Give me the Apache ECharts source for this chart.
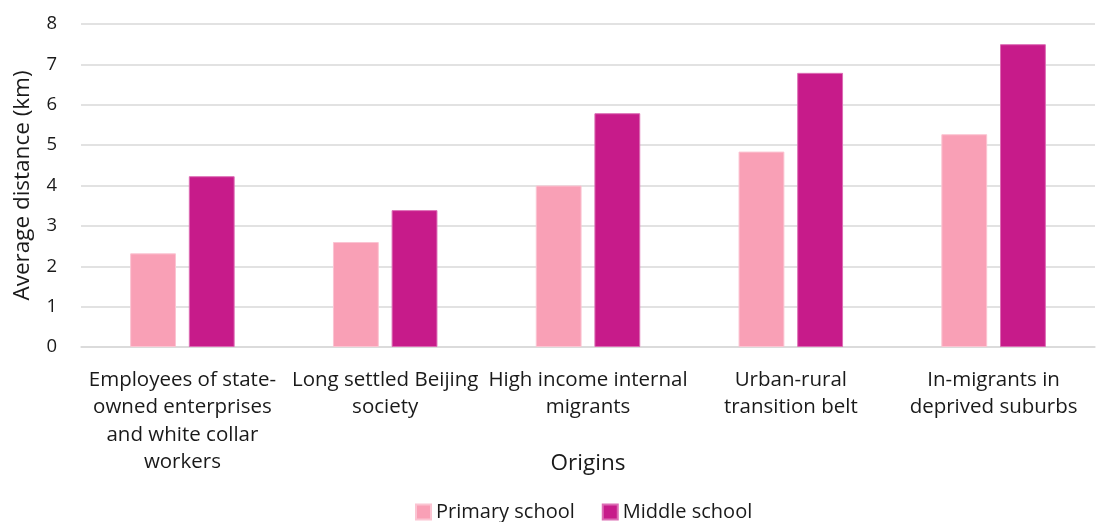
<!DOCTYPE html>
<html>
<head>
<meta charset="utf-8">
<script src="https://cdn.jsdelivr.net/npm/echarts@6/dist/echarts.min.js"></script>
<style>
  html, body { margin: 0; padding: 0; background: #fff; }
  #chart { width: 1097px; height: 522px; }
</style>
</head>
<body>
<div id="chart"></div>
<script>
// Origin groups (line breaks as shown under the axis)
const categories = [
  'Employees of state-\nowned enterprises\nand white collar\nworkers',
  'Long settled Beijing\nsociety',
  'High income internal\nmigrants',
  'Urban-rural\ntransition belt',
  'In-migrants in\ndeprived suburbs'
];
// Average distance to school (km)
const primarySchool = [2.32, 2.60, 4.00, 4.84, 5.27];
const middleSchool = [4.23, 3.39, 5.79, 6.79, 7.50];
const seriesNames = ['Primary school', 'Middle school'];
const yTicks = { min: 0, max: 8, interval: 1 };

const FONT = '"Open Sans", "Noto Sans", sans-serif';
const TEXT = '#1a1a1a';

const chart = echarts.init(document.getElementById('chart'), null, { renderer: 'canvas' });
chart.setOption({
  animation: false,
  backgroundColor: '#ffffff',
  textStyle: { fontFamily: FONT },
  grid: { left: 81, right: 2, top: 24, bottom: 175, containLabel: false, outerBoundsMode: 'none' },
  legend: {
    top: 502,
    left: 415,
    padding: 0,
    itemWidth: 15,
    itemHeight: 15,
    itemGap: 27,
    icon: 'rect',
    textStyle: { fontFamily: FONT, fontSize: 20, color: TEXT },
    data: seriesNames
  },
  xAxis: {
    type: 'category',
    data: categories,
    name: 'Origins',
    nameLocation: 'middle',
    nameGap: 105,
    nameMoveOverlap: false,
    nameTextStyle: { fontFamily: FONT, fontSize: 22.5, color: TEXT },
    axisLine: { show: true, lineStyle: { color: '#d9d9d9', width: 1.5 } },
    axisTick: { show: false },
    axisLabel: {
      interval: 0,
      margin: 19,
      fontFamily: FONT,
      fontSize: 20.5,
      lineHeight: 27.5,
      color: TEXT,
      align: 'center',
      verticalAlign: 'top'
    }
  },
  yAxis: {
    type: 'value',
    min: yTicks.min,
    max: yTicks.max,
    interval: yTicks.interval,
    name: 'Average distance (km)',
    nameLocation: 'middle',
    nameGap: 47,
    nameRotate: 90,
    nameMoveOverlap: false,
    nameTextStyle: { fontFamily: FONT, fontSize: 22.5, color: TEXT },
    axisLine: { show: false },
    axisTick: { show: false },
    axisLabel: { margin: 24, fontFamily: FONT, fontSize: 18.5, color: TEXT },
    splitLine: { show: true, lineStyle: { color: '#d9d9d9', width: 1.5 } }
  },
  series: [
    {
      name: seriesNames[0],
      type: 'bar',
      data: primarySchool,
      barWidth: '22.6%',
      barGap: '28%',
      itemStyle: { color: '#f9a0b6', borderColor: '#fbc4d2', borderWidth: 1 }
    },
    {
      name: seriesNames[1],
      type: 'bar',
      data: middleSchool,
      barWidth: '22.6%',
      barGap: '28%',
      itemStyle: { color: '#c71b8a', borderColor: '#dc6cb4', borderWidth: 1 }
    }
  ]
});
</script>
</body>
</html>
